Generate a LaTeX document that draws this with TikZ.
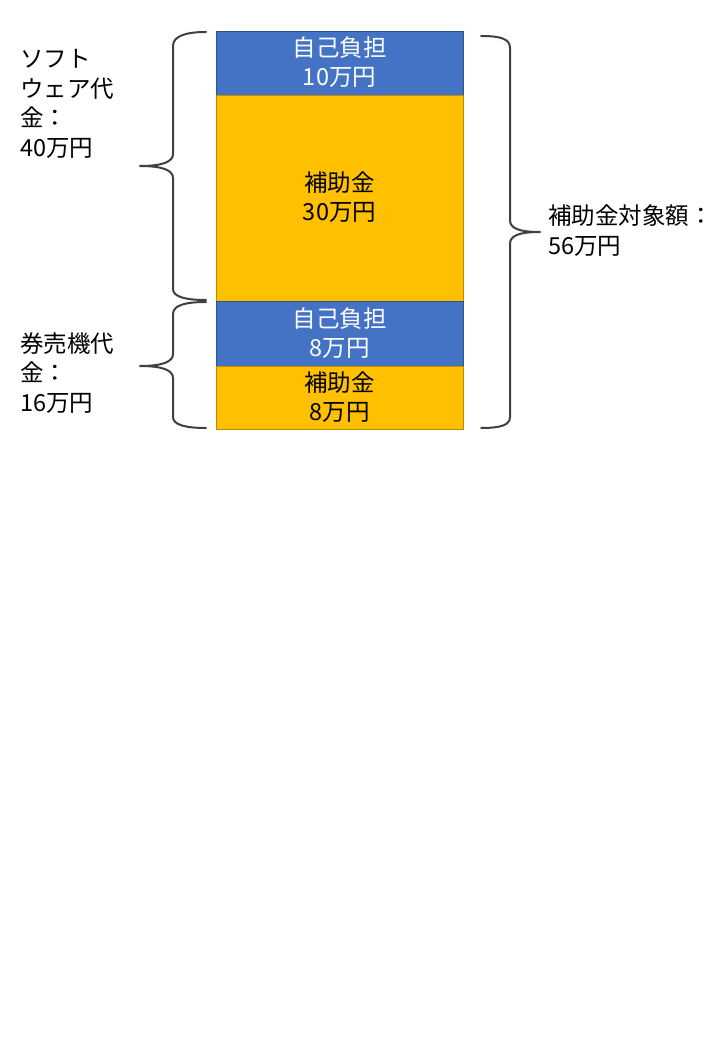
\documentclass[tikz,border=0pt]{standalone}
\usepackage{fontspec}
\newfontfamily\cjk{Noto Sans CJK JP}
\definecolor{boxblue}{HTML}{4472C4}
\definecolor{boxblueline}{HTML}{2F528F}
\definecolor{boxorange}{HTML}{FFC000}
\definecolor{boxorangeline}{HTML}{BC8C00}
\definecolor{bracecol}{HTML}{404040}
\tikzset{
  txt/.style={font=\cjk\fontsize{23.5}{29.5}\selectfont, inner sep=0pt, align=center},
  ltxt/.style={font=\cjk\fontsize{23.5}{29.5}\selectfont, inner sep=0pt, align=left, anchor=west, text=black},
  bluebox/.style={fill=boxblue, draw=boxblueline, line width=0.8pt},
  orangebox/.style={fill=boxorange, draw=boxorangeline, line width=0.8pt},
  bracestyle/.style={draw=bracecol, line width=2pt, line cap=round, line join=round}
}
\begin{document}
\begin{tikzpicture}[x=1pt,y=-1pt]
\useasboundingbox (0,0) rectangle (720,1040);
\fill[white] (0,0) rectangle (720,1040);
% boxes
\draw[bluebox] (216,31) rectangle (463,95);
\draw[orangebox] (216,95) rectangle (463,301);
\draw[bluebox] (216,301) rectangle (463,366);
\draw[orangebox] (216,366) rectangle (463,429);
\node[txt, text=white] (b1) at (339.5,62) {自己負担\\10万円};
\node[txt, text=black] (o1) at (339.5,197) {補助金\\30万円};
\node[txt, text=white] (b2) at (339.5,333) {自己負担\\8万円};
\node[txt, text=black] (o2) at (339.5,397) {補助金\\8万円};
% left brace 1
\draw[bracestyle] (206,32) .. controls (186,32) and (173,36) .. (173,46)
  -- (173,154) .. controls (173,162) and (162,166) .. (140,166)
  .. controls (162,166) and (173,170) .. (173,178)
  -- (173,289) .. controls (173,297) and (186,300) .. (206,300);
% left brace 2
\draw[bracestyle] (206,302) .. controls (186,302) and (173,305) .. (173,314)
  -- (173,354) .. controls (173,362) and (162,366) .. (140,366)
  .. controls (162,366) and (173,370) .. (173,378)
  -- (173,417) .. controls (173,425) and (186,428) .. (206,428);
% right brace
\draw[bracestyle] (481,36) .. controls (501,36) and (510,39) .. (510,48)
  -- (510,220) .. controls (510,228) and (518,232) .. (540,232)
  .. controls (518,232) and (510,236) .. (510,244)
  -- (510,417) .. controls (510,425) and (501,428) .. (481,428);
% labels
\node[ltxt] (soft) at (20,104) {ソフト\\ウェア代\\金：\\40万円};
\node[ltxt] (ken) at (20,373) {券売機代\\金：\\16万円};
\node[ltxt] (tot) at (548,230.5) {補助金対象額：\\56万円};
\end{tikzpicture}
\end{document}
